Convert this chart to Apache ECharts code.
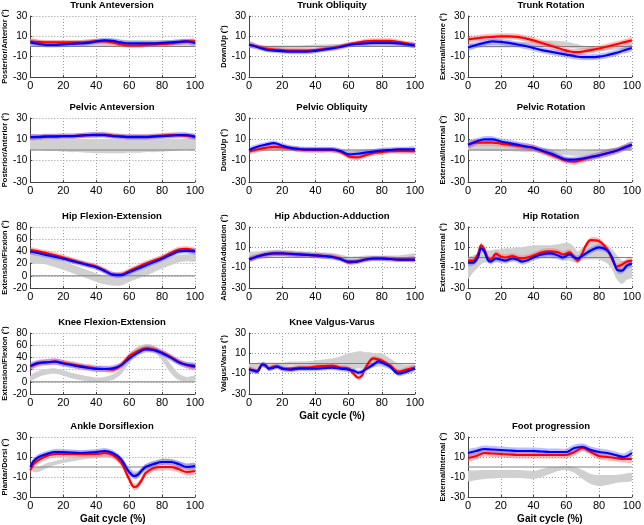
<!DOCTYPE html>
<html><head><meta charset="utf-8">
<script src="https://cdn.jsdelivr.net/npm/echarts@6/dist/echarts.min.js"></script>
<style>html,body{margin:0;padding:0;background:#fff}#c{width:644px;height:525px}</style>
</head><body><div id="c"></div>
<script>
// ---------- data ----------
const X21 = [0,5,10,15,20,25,30,35,40,45,50,55,60,65,70,75,80,85,90,95,100];

const trunkAntRed   = [5,4.5,4,4,4,4,4,4.5,5,5,4,2,1,1,1.5,2,2.5,3,4,5,5];
const trunkAntBlue  = [4,2.5,1.5,1.5,2,2.5,3,3.5,5,6,5.5,4,3,3,3,3,3.5,4,4.5,5,3.5];
const trunkAntGrayLo= [0,0,-0.5,-0.5,-0.5,-0.5,0,0,0,0.5,0.5,0.5,0,0,0,0,0,0,0,0,0];
const trunkAntGrayHi= [7,6.5,6,6,6,6,6.5,7,7.5,7.5,7.5,7,6.5,6.5,6.5,6.5,6.5,6.5,7,7,7];

const trunkOblRed   = [2,0,-2,-3,-3.5,-4,-4,-4,-3.5,-2.5,-1.5,0,2,3.5,5,5.5,5.5,5.5,4.5,3,1.5];
const trunkOblBlue  = [2,-0.5,-3,-4,-4.6,-5,-5,-5,-4.3,-3,-2,-0.5,1.5,2.5,3,3.5,3.5,3.5,3,2,1];
const trunkOblGrayLo= [-1,-1.5,-2,-2,-2,-2,-2,-1.5,-1,-1,-0.5,0,0,0,0,0,0,0,0,-0.5,-1];
const trunkOblGrayHi= [2,1.5,1,1,1,1,1,1.5,2,2,2.5,2.5,3,3,3,3,3,3,2.5,2.5,2];

const trunkRotRed   = [7,8,9,9.5,10,10,9.5,8,6,3.5,1,-1.5,-4,-5.5,-5,-3.5,-2,0,2,4,6];
const trunkRotBlue  = [-1,1.5,3.5,5,4.5,3.5,2,0.5,-1.5,-3.5,-5,-6.5,-8,-9.5,-10.5,-10.5,-10,-8.5,-6.5,-4,-1.5];
const trunkRotGrayLo= [-2,-1.5,-1,-1,-1,-1,-0.5,0,0,0.5,0.5,0,-1,-2,-3,-3.5,-4,-4,-3,-2.5,-2];
const trunkRotGrayHi= [2,2.5,3,3,3,3.5,4,4.5,5,5.5,6,5.5,5,3,1,0.5,0,0,1,1.5,2];

const pelAntRed   = [12,12.5,13,13,13,13,13.5,14,14.5,14.5,13.5,13,12.5,12.5,12.5,13,13.5,14,14,13.5,12];
const pelAntBlue  = [12,12,12.5,12.5,13,13,13.5,14,14,14,13,12.5,12,12,12,12.5,13,13.5,14,14,12.5];
const pelAntGrayLo= [0,0,-1,-1,-1.5,-2,-2,-2.5,-3,-3,-3,-3,-2.5,-2.5,-2,-2,-1.5,-1,-0.5,0,0];
const pelAntGrayHi= [11,11,10.5,10.5,10,10,10,10,10,10,10,10,10,10,10,10,10,10.5,10.5,11,11];

const pelOblRed   = [-1.5,0.5,2,3,2.5,1.5,0.5,0,0,0,0,-1.5,-6,-7,-5,-3,-2,-1,-1,-1,-1];
const pelOblBlue  = [0,3,5,6.5,4,2,1,0.5,0.5,0.5,0.5,-1,-4,-3.5,-2.5,-1.5,-0.5,0,0.5,0.5,0.5];
const pelOblGrayLo= [-1.5,-1.5,-1,-1,-1,-1,-1.5,-1.5,-1.5,-1.5,-1.5,-2,-2.5,-2.5,-2,-2,-1.5,-1.5,-1.5,-1.5,-1.5];
const pelOblGrayHi= [1.5,2,2.5,2.5,2.5,2,1.5,1.5,1.5,1.5,1.5,1,0.5,0.5,1,1,1.5,1.5,1.5,1.5,1.5];

const pelRotRed   = [5,7,7,7,6,5,4,3,2,-1,-4,-7,-10,-11,-9,-7,-5,-3,-1,2,5];
const pelRotBlue  = [5,8,10,10,8,6.5,5,3.5,2,-0.5,-3,-6,-9,-9,-8,-6.5,-5,-3,-1,2,5];
const pelRotGrayLo= [0,-0.5,-1,-1,-1,-1,-1.5,-2,-2,-2.5,-3,-4,-5,-5.5,-5,-4,-3,-2,-1,0,0];
const pelRotGrayHi= [6,5.5,5,5,4.5,4,3.5,3,2.5,2,1,0,-1,-1,-0.5,0,0.5,1,2,4,6];

const hipFlexRed   = [42,40,37,33.5,30,26,22,18.5,15,9,2,2,8,14,20,25,30,37,43,44,41];
const hipFlexBlue  = [40,37,34,31,28,24.5,21,17.5,14,8,2,1,6,11.5,17,22.5,28,34,40,41,40];
const hipFlexGrayLo= [22,20,18,14,10,5,0,-5,-10,-14,-16,-16,-10,-5,0,6,12,17,22,24,24];
const hipFlexGrayHi= [36,34,32,28,24,19,14,9,4,0,-2,-1,6,11,16,21,26,30,34,35,36];

const hipAbdRed   = [-2,1,3,4,4,3.5,3,2.5,2,1.5,1,-1,-5,-4,-2,-1,-1,-1.5,-2,-2,-2];
const hipAbdBlue  = [-2,1,3,4,4,3.5,3,2.5,2,1.5,0.5,-1.5,-4,-4,-2,-1,-1,-1.5,-2,-2,-2];
const hipAbdGrayLo= [-3,-2,-1,0,0,0,0,-0.5,-1,-1.5,-2,-3,-5,-5,-4,-3,-3,-3,-3,-3,-3];
const hipAbdGrayHi= [5,6,7,7.5,7.5,7,6.5,6,5.5,5,4.5,3,1,1,2,2,2,2,2,3,4];

const xHipRot      = [0,3,6,8,10,12,14,17,20,23,27,30,33,36,40,45,50,55,58,62,65,67,70,72,75,80,85,88,91,94,97,100];
const hipRotRed    = [-3,-3,3,12,8,0,-2,3.5,1,0,1.5,0,-1,0,2,5,6,5,3,5,0,-3,5,12,17,16,8,-2,-9,-7,-4,-3];
const hipRotBlue   = [-5,-5,0,9,6,-2,-4,-1,-2,-3,-1,-2,-4,-3,0,3,4,2,0,3,0,-1,2,4,7,10,7,0,-12,-13,-8,-6];
const hipRotGrayLo = [-21,-15,-10,-7,-5,-5,-5,-5,-5,-4,-4,-3,-3,-3,-2,-1,-1,-2,-3,-3,-5,-5,-3,-2,-2,-2,-6,-12,-22,-26,-22,-20];
const hipRotGrayHi = [0,2,4,6,7,7,7,8,8,9,9,10,10,11,12,12,12,13,14,14,10,6,10,12,14,14,12,8,2,-3,-4,-3];

const kneeFlexRed   = [25,30,32,33,31,28.5,26,24,22,21,20,27,42,50,55,53,48,41,33,27,24];
const kneeFlexBlue  = [26,31,32,33,30,27.5,25,23,21,21,22,27,38,47,53,52,47,40,32,28,26];
const kneeFlexGrayLo= [2,8,12,13,10,6,3,1,0,1,3,12,30,45,52,50,35,15,3,1,2];
const kneeFlexGrayHi= [10,18,21,22,19,15,12,9,7,8,12,22,45,57,62,60,48,30,14,8,10];

const xKneeVal      = [0,3,5,8,10,12,15,17,20,25,30,35,40,45,50,55,60,63,66,68,70,73,75,78,80,85,90,95,100];
const kneeValRed    = [-5,-7,-7,-1,-2,-5,-3,-3,-5,-5,-4,-4,-3,-2.5,-2,-4,-5,-10,-14,-12,-5,3,5,4,3,-2,-8,-6,-4];
const kneeValBlue   = [-6,-7,-8,-1,-2,-5,-4,-3,-5,-6,-5,-5,-5,-4.5,-4,-5,-6,-7,-9,-8,-6,-3,-1,2,1,-3,-10,-8,-5];
const kneeValGrayLo = [-4,-5,-5,-4,-5,-5,-4,-3,-3,-2,-2,-2,-2,-1.5,-1,-2,-4,-5,-5,-5,-5,-4,-4,-3,-3,-6,-9,-7,-5];
const kneeValGrayHi = [0,0,1,1,1,1,1,1,1,2,2,2,3,4,5,7,10,11,12,12,11,11,10,10,10,5,0,-1,-1];

const xAnkle        = [0,2,5,10,15,20,30,40,45,50,55,58,60,63,65,68,70,75,80,85,90,95,100];
const ankleRed      = [-3,3,7,11,13,13,13,13,14,12,5,-5,-12,-20,-19,-12,-6,-1,0,0,-2,-5,-4];
const ankleBlue     = [0,6,10,13,15,15,14,15,16,14,8,0,-5,-9,-8,-3,0,3,5,5,3,0,1];
const ankleGrayLo   = [-2,-5,-5,-1,2,4,7,9,9,9,2,-4,-8,-12,-12,-7,-3,2,4,5,2,-1,-1];
const ankleGrayHi   = [3,0,0,4,6,8,11,13,13,14,10,4,0,-4,-4,0,3,6,8,8,6,4,4];

const footRed    = [9,11,14,13.5,13,12.5,12,12,12,12,12,12,12,15,19,15,11,10,9,8,8];
const footBlue   = [14,16,18,17.5,17,16.5,16,16,16,15.5,15,15,15,19,20,17,15,14,12,10,14];
const footGrayLo = [-14,-13,-12,-11.5,-11,-11,-11,-11.5,-12,-10,-7,-4,-3,-6,-12,-17,-19,-18,-16,-15,-14];
const footGrayHi = [-4,-3.5,-3,-3,-3,-3,-3,-3.5,-4,-2,0,0,1,0,-3,-7,-8,-8,-8,-7,-6];

// SD (half-width) of the red and blue bands per panel
const redSD  = [2.5,2.5,3,2.5,2.5,3,4.5,2.5,3,5,2.5,3.5,3.5];
const blueSD = [2.5,2.5,3,2.5,2.5,3,4.5,2.5,3,5,2.5,3,3.5];

const titles = ['Trunk Anteversion','Trunk Obliquity','Trunk Rotation','Pelvic Anteversion','Pelvic Obliquity','Pelvic Rotation','Hip Flexion-Extension','Hip Abduction-Adduction','Hip Rotation','Knee Flexion-Extension','Knee Valgus-Varus','Ankle Dorsiflexion','Foot progression'];
const yNames = ['Posterior/Anterior (°)','Down/Up (°)','External/Interne (°)','Posterior/Anterior (°)','Down/Up (°)','External/Internal (°)','Extension/Flexion (°)','Abduction/Adduction (°)','External/Internal (°)','Extension/Flexion (°)','Valgus/Varus (°)','Plantar/Dorsi (°)','External/Internal (°)'];
const yRangeSmall = [-30,30];
const yRangeLarge = [-20,80];
const zeroRef = [[0,0],[100,0]];

// ---------- layout ----------
const colLeft = [29,249,468];
const colW = 166;
const rowTop = [16,118,227,333,437];
const rowH = [61,64,61,61,61];

const panels = [
  {r:0,c:0,x:X21,red:trunkAntRed,blue:trunkAntBlue,lo:trunkAntGrayLo,hi:trunkAntGrayHi,yr:yRangeSmall},
  {r:0,c:1,x:X21,red:trunkOblRed,blue:trunkOblBlue,lo:trunkOblGrayLo,hi:trunkOblGrayHi,yr:yRangeSmall},
  {r:0,c:2,x:X21,red:trunkRotRed,blue:trunkRotBlue,lo:trunkRotGrayLo,hi:trunkRotGrayHi,yr:yRangeSmall},
  {r:1,c:0,x:X21,red:pelAntRed,blue:pelAntBlue,lo:pelAntGrayLo,hi:pelAntGrayHi,yr:yRangeSmall},
  {r:1,c:1,x:X21,red:pelOblRed,blue:pelOblBlue,lo:pelOblGrayLo,hi:pelOblGrayHi,yr:yRangeSmall},
  {r:1,c:2,x:X21,red:pelRotRed,blue:pelRotBlue,lo:pelRotGrayLo,hi:pelRotGrayHi,yr:yRangeSmall},
  {r:2,c:0,x:X21,red:hipFlexRed,blue:hipFlexBlue,lo:hipFlexGrayLo,hi:hipFlexGrayHi,yr:yRangeLarge},
  {r:2,c:1,x:X21,red:hipAbdRed,blue:hipAbdBlue,lo:hipAbdGrayLo,hi:hipAbdGrayHi,yr:yRangeSmall},
  {r:2,c:2,x:xHipRot,red:hipRotRed,blue:hipRotBlue,lo:hipRotGrayLo,hi:hipRotGrayHi,yr:yRangeSmall},
  {r:3,c:0,x:X21,red:kneeFlexRed,blue:kneeFlexBlue,lo:kneeFlexGrayLo,hi:kneeFlexGrayHi,yr:yRangeLarge},
  {r:3,c:1,x:xKneeVal,red:kneeValRed,blue:kneeValBlue,lo:kneeValGrayLo,hi:kneeValGrayHi,yr:yRangeSmall,gait:true},
  {r:4,c:0,x:xAnkle,red:ankleRed,blue:ankleBlue,lo:ankleGrayLo,hi:ankleGrayHi,yr:yRangeSmall,gait:true},
  {r:4,c:2,x:X21,red:footRed,blue:footBlue,lo:footGrayLo,hi:footGrayHi,yr:yRangeSmall,gait:true}
];

const FONT = "'Liberation Sans', Arial, sans-serif";
const grid=[], xAxis=[], yAxis=[], series=[], title=[];
const SM = 0.35;

function band(i, xs, lo, hi, color, z){
  series.push({type:'custom', xAxisIndex:i, yAxisIndex:i, silent:true, z:z, clip:true,
    data: xs.map((v,k)=>[v, lo[k], hi[k]]),
    encode:{x:0, y:[1,2]},
    renderItem: function(params, api){
      if (params.dataIndex !== 0) return null;
      const up = [], dn = [];
      for (let k=0;k<xs.length;k++){ up.push(api.coord([xs[k], hi[k]])); }
      for (let k=xs.length-1;k>=0;k--){ dn.push(api.coord([xs[k], lo[k]])); }
      return {type:'group', children:[
        {type:'polygon', shape:{points: up.concat(dn), smooth:0.3}, style:{fill:color}}
      ]};
    }});
}

panels.forEach((p,i)=>{
  const left = colLeft[p.c], top = rowTop[p.r], h = rowH[p.r];
  grid.push({left:left, top:top, width:colW, height:h, containLabel:false});
  title.push({text:titles[i], left:left+colW/2, top:top-16, textAlign:'center', padding:0,
    textStyle:{fontSize:9.5, fontWeight:'bold', color:'#000', fontFamily:FONT}});
  xAxis.push({gridIndex:i, type:'value', min:0, max:100, interval:20,
    name: p.gait ? 'Gait cycle (%)' : '', nameLocation:'middle', nameGap:17,
    nameTextStyle:{fontSize:10, fontWeight:'bold', color:'#000', fontFamily:FONT},
    axisLine:{show:true, onZero:false, lineStyle:{color:'#444', width:1}},
    axisTick:{show:true, inside:true, length:2, lineStyle:{color:'#444'}},
    axisLabel:{fontSize:11, margin:3, color:'#000', fontFamily:FONT},
    splitLine:{show:true, lineStyle:{type:[1,2], color:'#9a9a9a', width:1}}});
  yAxis.push({gridIndex:i, type:'value', min:p.yr[0], max:p.yr[1], interval:20,
    name:yNames[i], nameLocation:'middle', nameGap:20,
    nameTextStyle:{fontSize:7.5, fontWeight:'bold', color:'#000', fontFamily:FONT},
    axisLine:{show:true, onZero:false, lineStyle:{color:'#444', width:1}},
    axisTick:{show:true, inside:true, length:2, lineStyle:{color:'#444'}},
    axisLabel:{fontSize:10, margin:3, color:'#000', fontFamily:FONT},
    splitLine:{show:true, lineStyle:{type:[1,2], color:'#9a9a9a', width:1}}});

  band(i, p.x, p.lo, p.hi, '#d0d0d0', 1);
  series.push({type:'line', xAxisIndex:i, yAxisIndex:i, data:zeroRef, symbol:'none', silent:true, z:2,
    lineStyle:{color:'#808080', width:1}});
  band(i, p.x, p.red.map(v=>v-redSD[i]), p.red.map(v=>v+redSD[i]), 'rgba(255,90,90,0.4)', 3);
  band(i, p.x, p.blue.map(v=>v-blueSD[i]), p.blue.map(v=>v+blueSD[i]), 'rgba(90,90,255,0.4)', 4);
  series.push({type:'line', xAxisIndex:i, yAxisIndex:i, smooth:SM, symbol:'none', silent:true, z:5,
    lineStyle:{color:'#ff0000', width:2.2}, data:p.x.map((v,k)=>[v,p.red[k]])});
  series.push({type:'line', xAxisIndex:i, yAxisIndex:i, smooth:SM, symbol:'none', silent:true, z:6,
    lineStyle:{color:'#0000ff', width:2.2}, data:p.x.map((v,k)=>[v,p.blue[k]])});
});

const chart = echarts.init(document.getElementById('c'), null, {renderer:'canvas'});
chart.setOption({animation:false, backgroundColor:'#fff', title, grid, xAxis, yAxis, series});
</script>
</body></html>
